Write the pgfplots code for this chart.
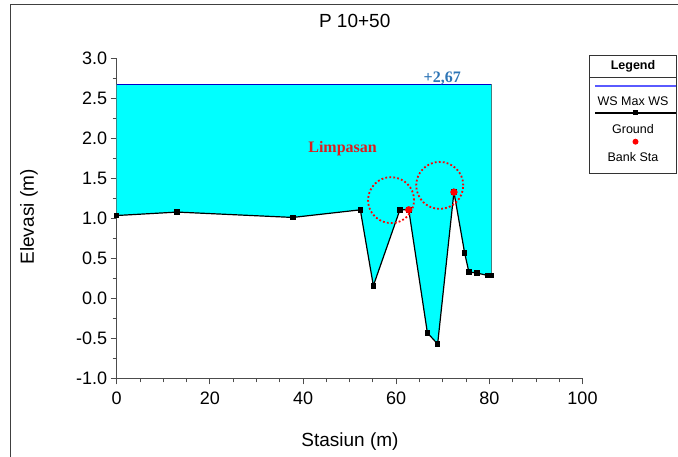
\documentclass[border=0pt]{standalone}
\usepackage{pgfplots}
\pgfplotsset{compat=1.18}
\usepackage{fontspec}
\setmainfont{Liberation Sans}
\newfontfamily\serifb{Liberation Serif}
\definecolor{wsblue}{RGB}{0,0,200}
\definecolor{edgeteal}{RGB}{64,128,128}
\definecolor{limpred}{RGB}{220,30,30}
\definecolor{lblblue}{RGB}{46,117,182}
\definecolor{legblue}{RGB}{90,90,255}
\definecolor{wscyan}{RGB}{0,255,255}
\begin{document}
\begin{tikzpicture}[x=1pt,y=1pt]
\begin{axis}[
  at={(116.7pt,78.5pt)}, anchor=south west,
  scale only axis, width=465.8pt, height=320.5pt,
  xmin=0, xmax=100, ymin=-1, ymax=3,
  axis x line=bottom, axis y line=left,
  axis line style={-, color=black!70, line width=0.8pt},
  tick align=outside, major tick length=6pt, minor tick length=4pt,
  xtick={0,20,40,60,80,100}, minor x tick num=3,
  ytick={-1,-0.5,0,0.5,1,1.5,2,2.5,3}, minor y tick num=1,
  every tick/.style={color=black!70, line width=0.8pt},
  yticklabel style={/pgf/number format/.cd, fixed, fixed zerofill, precision=1},
  xticklabel style={yshift=-4pt},
  ticklabel style={font=\fontsize{18}{18}\selectfont},
  /pgf/number format/assume math mode=true,
  clip=false,
]
\addplot[fill=wscyan, draw=none] coordinates {(0,2.67) (80.4,2.67) (80.4,0.287) (79.6,0.287) (77.3,0.316) (75.6,0.33) (74.7,0.566) (72.4,1.326) (68.9,-0.57) (66.7,-0.43) (62.7,1.105) (60.8,1.105) (55.1,0.158) (52.3,1.105) (37.8,1.01) (13.0,1.077) (0,1.034)} -- cycle;
\addplot[color=edgeteal, line width=1pt] coordinates {(80.4,0.287) (80.4,2.67)};
\addplot[color=wsblue, line width=1pt] coordinates {(0,2.67) (80.4,2.67)};
\addplot[black, line width=1.2pt, mark=square*, mark size=2.2pt] coordinates {(0,1.034) (13.0,1.077) (37.8,1.01) (52.3,1.105) (55.1,0.158) (60.8,1.105) (62.7,1.105) (66.7,-0.43) (68.9,-0.57) (72.4,1.326) (74.7,0.566) (75.6,0.33) (77.3,0.316) (79.6,0.287) (80.4,0.287)};
\addplot[only marks, mark=*, mark size=3.4pt, color=red] coordinates {(62.7,1.105) (72.4,1.326)};
\draw[red, line width=1.8pt, dash pattern=on 1.8pt off 2.2pt] (axis cs:58.9,1.226) circle[radius=23pt];
\draw[red, line width=1.8pt, dash pattern=on 1.8pt off 2.2pt] (axis cs:69.35,1.41) circle[radius=23.5pt];
\node[text=limpred, font=\serifb\bfseries\fontsize{16}{16}\selectfont] at (axis cs:48.5,1.864) {Limpasan};
\node[text=lblblue, font=\serifb\bfseries\fontsize{16}{16}\selectfont] at (axis cs:69.9,2.74) {+2,67};
\end{axis}
% title and axis labels
\node[font=\fontsize{19}{19}\selectfont] at (354.7,436) {P 10+50};
\node[font=\fontsize{19}{19}\selectfont] at (350,15) {Stasiun (m)};
\node[font=\fontsize{19}{19}\selectfont, rotate=90] at (29,240) {Elevasi (m)};
% outer frame
\draw[black!75, line width=1pt] (10,-5) -- (10,452) -- (690,452);
% legend
\draw[black!80, line width=0.8pt] (589,402) rectangle (676,284);
\node[font=\bfseries\fontsize{12.5}{12.5}\selectfont] at (633,391) {Legend};
\draw[black!80, line width=0.8pt] (589,380) -- (676,380);
\draw[legblue, line width=1.2pt] (595,371) -- (676,371);
\node[font=\fontsize{12.5}{12.5}\selectfont] at (633,356) {WS Max WS};
\draw[black, line width=1.2pt] (595,344) -- (676,344);
\fill[black] (632.5,341.5) rectangle (637.5,346.5);
\node[font=\fontsize{12.5}{12.5}\selectfont] at (633,328) {Ground};
\fill[red] (635.5,315.3) circle (3);
\node[font=\fontsize{12.5}{12.5}\selectfont] at (633,300) {Bank Sta};
\pgfresetboundingbox
\useasboundingbox (0,0) rectangle (678,457);
\end{tikzpicture}
\end{document}
